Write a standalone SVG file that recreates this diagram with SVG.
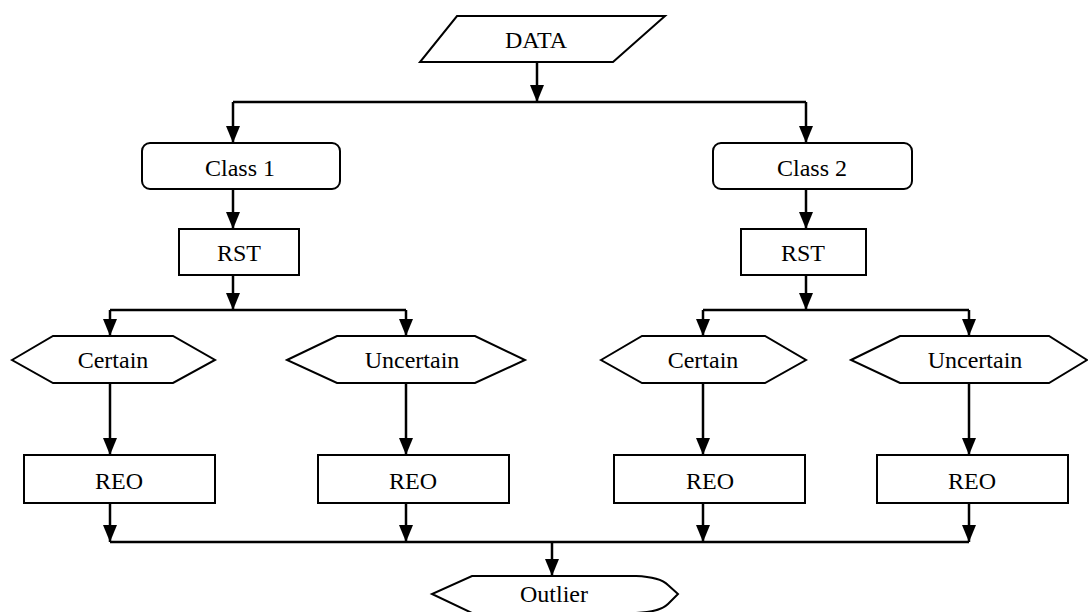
<svg xmlns="http://www.w3.org/2000/svg" width="1088" height="612" viewBox="0 0 1088 612">
<style>
.s{fill:#fff;stroke:#000;stroke-width:2}
.c{fill:none;stroke:#000;stroke-width:2.5}
.t{font-family:"Liberation Serif","Times New Roman",serif;font-size:24px;fill:#000;text-anchor:middle}
</style>
<defs>
<marker id="arr" markerUnits="userSpaceOnUse" markerWidth="18" markerHeight="16" viewBox="0 0 18 16" refX="17" refY="8" orient="auto">
<path d="M0,1 L17,8 L0,15 Z" fill="#000"/>
</marker>
</defs>
<rect width="1088" height="612" fill="#fff"/>
<g id="connectors">
<path class="c" d="M537,62 V102" marker-end="url(#arr)"/>
<path class="c" d="M233,102 H806"/>
<path class="c" d="M233,102 V143" marker-end="url(#arr)"/>
<path class="c" d="M806,102 V143" marker-end="url(#arr)"/>
<path class="c" d="M233,189 V229" marker-end="url(#arr)"/>
<path class="c" d="M806,189 V229" marker-end="url(#arr)"/>
<path class="c" d="M233,275 V310" marker-end="url(#arr)"/>
<path class="c" d="M806,275 V310" marker-end="url(#arr)"/>
<path class="c" d="M110,310 H406"/>
<path class="c" d="M703,310 H969"/>
<path class="c" d="M110,310 V336" marker-end="url(#arr)"/>
<path class="c" d="M406,310 V336" marker-end="url(#arr)"/>
<path class="c" d="M703,310 V336" marker-end="url(#arr)"/>
<path class="c" d="M969,310 V336" marker-end="url(#arr)"/>
<path class="c" d="M110,383 V455" marker-end="url(#arr)"/>
<path class="c" d="M406,383 V455" marker-end="url(#arr)"/>
<path class="c" d="M703,383 V455" marker-end="url(#arr)"/>
<path class="c" d="M969,383 V455" marker-end="url(#arr)"/>
<path class="c" d="M110,503 V542" marker-end="url(#arr)"/>
<path class="c" d="M406,503 V542" marker-end="url(#arr)"/>
<path class="c" d="M703,503 V542" marker-end="url(#arr)"/>
<path class="c" d="M969,503 V542" marker-end="url(#arr)"/>
<path class="c" d="M110,542 H969"/>
<path class="c" d="M552,542 V576" marker-end="url(#arr)"/>
</g>
<g id="data"><polygon class="s" points="457,16 665,16 613,62 420,62"/><text class="t" x="536" y="48">DATA</text></g>
<g id="class1"><rect class="s" x="142" y="143" width="198" height="46" rx="8"/><text class="t" x="240" y="176">Class 1</text></g>
<g id="class2"><rect class="s" x="713" y="143" width="199" height="46" rx="8"/><text class="t" x="812" y="176">Class 2</text></g>
<g id="rst1"><rect class="s" x="179" y="229" width="120" height="46"/><text class="t" x="239" y="261">RST</text></g>
<g id="rst2"><rect class="s" x="741" y="229" width="125" height="46"/><text class="t" x="803" y="261">RST</text></g>
<g id="certain1"><polygon class="s" points="12,360 53,336 173,336 215,360 173,383 53,383"/><text class="t" x="113" y="368">Certain</text></g>
<g id="uncertain1"><polygon class="s" points="287,360 337,336 475,336 525,360 475,383 337,383"/><text class="t" x="412" y="368">Uncertain</text></g>
<g id="certain2"><polygon class="s" points="601,360 642,336 765,336 806,360 765,383 642,383"/><text class="t" x="703" y="368">Certain</text></g>
<g id="uncertain2"><polygon class="s" points="851,360 900,336 1049,336 1087,360 1049,383 900,383"/><text class="t" x="975" y="368">Uncertain</text></g>
<g id="reo1"><rect class="s" x="24" y="455" width="191" height="48"/><text class="t" x="119" y="489">REO</text></g>
<g id="reo2"><rect class="s" x="318" y="455" width="191" height="48"/><text class="t" x="413" y="489">REO</text></g>
<g id="reo3"><rect class="s" x="614" y="455" width="191" height="48"/><text class="t" x="710" y="489">REO</text></g>
<g id="reo4"><rect class="s" x="877" y="455" width="191" height="48"/><text class="t" x="972" y="489">REO</text></g>
<g id="outlier"><path class="s" d="M472,576 H636 Q660,577 668,585 L678,594 L668,604 Q660,612 636,613 H472 L432,594 Z"/><text class="t" x="554" y="602">Outlier</text></g>
</svg>
